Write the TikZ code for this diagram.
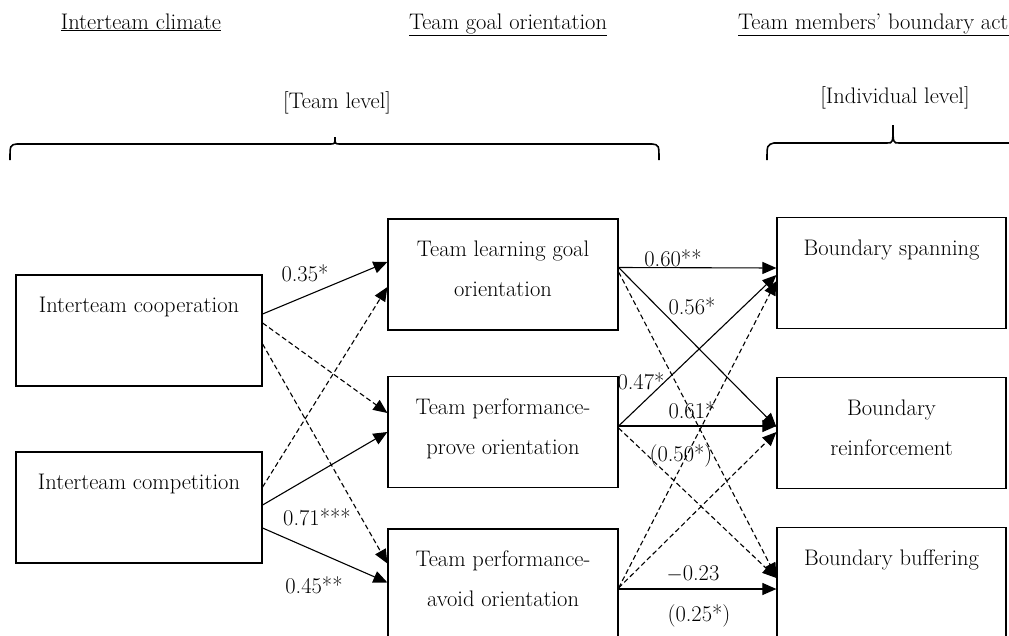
\documentclass[tikz,border=0pt]{standalone}
\usetikzlibrary{arrows.meta}

\begin{document}
\begin{tikzpicture}[x=1pt,y=-1pt,font=\fontsize{22.5}{40}\selectfont,
  box/.style={draw,line width=1.2pt,minimum width=#1,minimum height=111pt,inner sep=0pt},
  boxtext/.style={anchor=north,yshift=-22.5pt,align=center,inner sep=0pt},
  head/.style={inner sep=0pt},
  coef/.style={inner sep=0pt},
  link/.style={line width=1.1pt,-{Triangle[length=14pt,width=12pt]}},
  dlink/.style={link,dash pattern=on 5pt off 3pt},
  brace/.style={line width=1.6pt}]
\useasboundingbox (0,0) rectangle (1009,635);
\clip (0,0) rectangle (1009,635);

% headings
\node[head,anchor=base] (climate) at (141,29) {\underline{Interteam climate}};
\node[head,anchor=base] (goal) at (508,29) {\underline{Team goal orientation}};
\node[head,anchor=base west] (action) at (738,29) {\underline{Team members' boundary activities}};
\node[head] (teamlvl) at (337,103) {[Team level]};
\node[head] (indlvl) at (895,98) {[Individual level]};

% braces
\draw[brace] (10,160) .. controls (10,145) .. (17,144) -- (330,144)
  .. controls (335,144) .. (335,137) .. controls (335,144) .. (340,144)
  -- (652,144) .. controls (659,145) .. (659,160);
\draw[brace] (767,160) .. controls (767,145) .. (774,143) -- (887,143)
  .. controls (893,143) .. (893,125) .. controls (893,143) .. (899,143)
  -- (1015,143);

% interteam climate
\begin{scope}
\node[box=246pt,label={[boxtext]north:Interteam cooperation}] (coop) at (139,330.5) {};
\node[box=246pt,label={[boxtext]north:Interteam competition}] (comp) at (139,507.5) {};
\end{scope}

% team goal orientation
\begin{scope}
\node[box=230pt,label={[boxtext]north:Team learning goal\\orientation}] (learn) at (503,274.5) {};
\node[box=230pt,label={[boxtext]north:Team performance-\\prove orientation}] (prove) at (503,432) {};
\node[box=230pt,label={[boxtext]north:Team performance-\\avoid orientation}] (avoid) at (503,584.5) {};
\end{scope}

% boundary activities
\begin{scope}
\node[box=229pt,label={[boxtext]north:Boundary spanning}] (span) at (891.5,273) {};
\node[box=229pt,label={[boxtext]north:Boundary\\reinforcement}] (reinf) at (891.5,433) {};
\node[box=229pt,label={[boxtext]north:Boundary buffering}] (buff) at (891.5,583) {};
\end{scope}

% climate -> goal orientation
\draw[link] ([yshift=16.5pt]coop.east) -- ([yshift=12.5pt]learn.west);
\draw[dlink] ([yshift=7.5pt]coop.east) -- ([yshift=19pt]prove.west);
\draw[dlink] ([yshift=-13.5pt]coop.east) -- ([yshift=21pt]avoid.west);
\draw[dlink] ([yshift=20.5pt]comp.east) -- ([yshift=-12.5pt]learn.west);
\draw[link] ([yshift=2.5pt]comp.east) -- (prove.west);
\draw[link] ([yshift=-20.5pt]comp.east) -- ([yshift=2pt]avoid.west);

% goal orientation -> boundary activities
\draw[link] ([yshift=7pt]learn.east) -- ([yshift=5pt]span.west);
\draw[link] ([yshift=7pt]learn.east) -- ([yshift=6pt]reinf.west);
\draw[dlink] ([yshift=2.5pt]learn.east) -- ([yshift=6pt]buff.west);
\draw[link] ([yshift=6pt]prove.east) -- ([yshift=-2pt]span.west);
\draw[link] ([yshift=6pt]prove.east) -- ([yshift=7pt]reinf.west);
\draw[dlink] ([yshift=4pt]prove.east) -- ([yshift=5pt]buff.west);
\draw[dlink] ([yshift=-3.5pt]avoid.east) -- ([yshift=-8pt]span.west);
\draw[dlink] ([yshift=-3.5pt]avoid.east) -- ([yshift=1pt]reinf.west);
\draw[link] ([yshift=-4.5pt]avoid.east) -- ([yshift=-6pt]buff.west);

% coefficients
\node[coef] (c1) at (305,273) {0.35*};
\node[coef] (c2) at (317,517) {0.71***};
\node[coef] (c3) at (314,585) {0.45**};
\node[coef] (c4) at (673,258) {0.60**};
\node[coef] (c5) at (692,306) {0.56*};
\node[coef] (c6) at (641,381) {0.47*};
\node[coef] (c7) at (692,410) {0.61*};
\node[coef] (c8) at (681,456) {(0.50*)};
\node[coef] (c9) at (693,574) {$-$0.23};
\node[coef] (c10) at (699,616) {(0.25*)};

\end{tikzpicture}
\end{document}
